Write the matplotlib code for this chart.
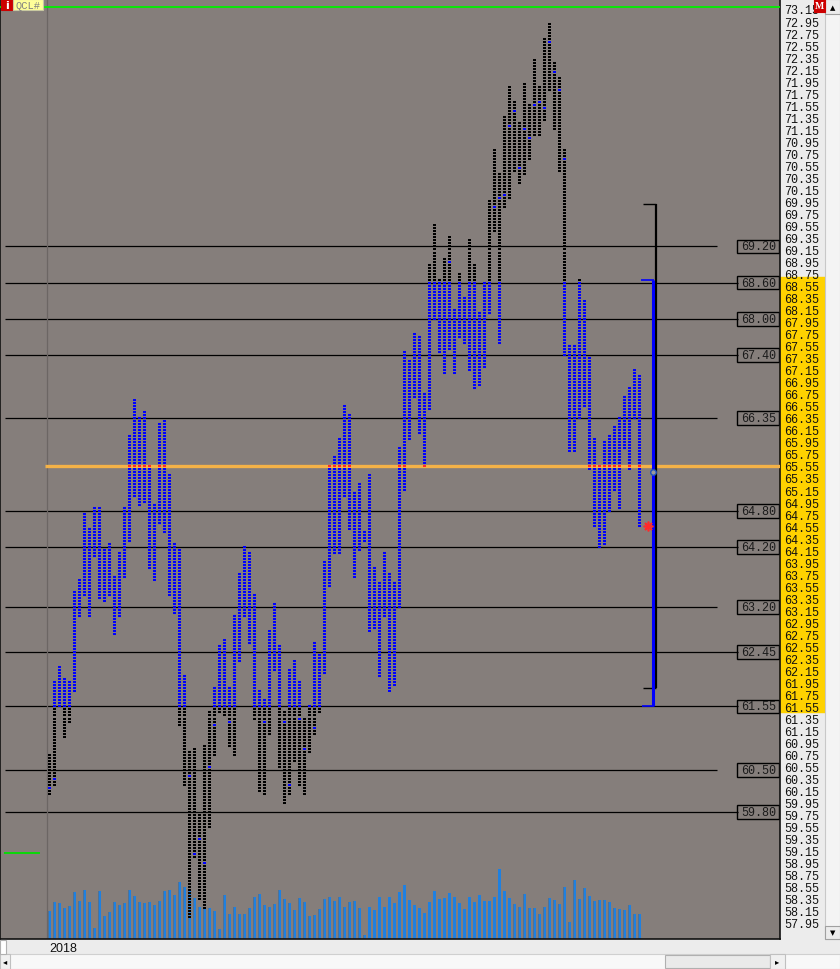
import numpy as np
import matplotlib
matplotlib.use('Agg')
import matplotlib.pyplot as plt
from matplotlib.patches import Rectangle
import matplotlib.transforms as mtransforms

# one column per session: low / high of the day
lows = [60.10, 60.25, 61.55, 61.05, 61.30, 61.80, 63.05, 63.40, 63.05, 64.05,
        63.35, 63.30, 63.40, 62.75, 63.05, 63.70, 64.30, 65.05, 64.90, 64.95,
        63.85, 63.65, 64.60, 64.45, 63.40, 63.10, 61.25, 60.25, 58.05, 59.05,
        58.35, 58.20, 59.55, 60.75, 61.45, 61.40, 60.90, 60.75, 62.30, 63.05,
        62.60, 61.35, 60.15, 60.10, 61.10, 62.15, 60.55, 59.95, 60.10, 60.65,
        60.25, 60.10, 60.80, 61.10, 61.45, 62.10, 63.55, 64.10, 64.10, 65.05,
        64.50, 63.70, 64.15, 64.30, 62.80, 62.85, 62.05, 63.05, 61.80, 61.90,
        63.20, 65.15, 66.00, 66.70, 66.10, 65.55, 66.50, 68.00, 67.45, 67.10,
        67.50, 67.10, 67.70, 67.60, 67.15, 66.85, 66.90, 67.20, 68.10, 69.45,
        67.60, 69.85, 70.00, 70.45, 70.25, 70.40, 70.65, 71.05, 71.05, 71.30,
        71.80, 71.15, 70.45, 67.40, 65.80, 65.80, 66.35, 66.55, 65.50, 64.55,
        64.20, 64.25, 64.80, 65.15, 64.85, 65.85, 65.50, 66.35, 64.55]
highs = [60.75, 61.95, 62.20, 62.00, 61.95, 63.45, 63.65, 64.75, 64.50, 64.85,
         64.85, 64.15, 64.25, 63.70, 64.10, 64.85, 66.05, 66.65, 66.35, 66.45,
         65.55, 64.90, 66.25, 66.30, 65.40, 64.25, 64.15, 62.05, 60.80, 60.85,
         59.75, 60.90, 61.45, 61.85, 62.55, 62.65, 61.85, 63.05, 63.75, 64.20,
         64.10, 63.40, 61.80, 61.65, 62.80, 63.25, 62.55, 61.45, 62.15, 62.30,
         61.95, 61.35, 61.55, 62.60, 62.40, 63.95, 65.55, 65.70, 66.00, 66.55,
         66.40, 65.10, 65.25, 64.45, 65.40, 63.85, 63.60, 64.10, 63.75, 63.60,
         65.85, 67.45, 67.30, 67.75, 67.70, 66.75, 68.90, 69.55, 68.65, 69.00,
         69.35, 68.15, 68.75, 68.35, 69.30, 68.90, 68.10, 68.60, 69.95, 70.80,
         70.40, 71.35, 71.85, 71.60, 71.25, 71.90, 71.55, 72.30, 71.85, 72.65,
         72.90, 72.25, 72.00, 70.80, 67.55, 67.55, 68.65, 68.30, 67.35, 66.00,
         65.55, 65.95, 66.05, 66.20, 66.35, 66.70, 66.85, 67.15, 67.05]
# close marks visible outside the value area
closes = {0: 60.20, 1: 60.35, 28: 60.40, 29: 59.10, 30: 59.35, 31: 58.95,
          32: 60.55, 33: 61.25, 36: 61.30, 43: 61.30, 47: 61.30, 48: 60.25,
          50: 61.35, 51: 60.85, 53: 61.20, 80: 68.95, 89: 69.85, 90: 70.00,
          91: 70.05, 92: 71.20, 93: 71.45, 94: 70.50, 95: 71.15, 96: 71.00,
          97: 71.55, 98: 71.60, 99: 71.50, 100: 72.60, 101: 72.10, 102: 71.80,
          103: 70.65}
volume = [28, 37, 36, 31, 33, 47, 38, 49, 37, 11,
          48, 23, 27, 37, 34, 36, 49, 43, 37, 36,
          37, 34, 38, 48, 49, 44, 57, 52, 49, 41,
          32, 32, 31, 28, 10, 44, 25, 32, 25, 25,
          31, 42, 45, 34, 32, 35, 49, 40, 36, 29,
          41, 37, 23, 24, 30, 40, 42, 38, 42, 32,
          37, 38, 31, 4, 32, 29, 42, 32, 42, 36,
          47, 54, 39, 34, 31, 26, 37, 48, 40, 41,
          46, 42, 36, 30, 42, 37, 44, 38, 38, 42,
          70, 48, 41, 35, 32, 45, 31, 31, 25, 32,
          41, 39, 35, 52, 17, 59, 40, 51, 43, 38,
          39, 39, 37, 31, 30, 29, 34, 25, 25]

TICK = 0.05
poc = 65.55
va_low, va_high = 61.55, 68.60
range_low, range_high = 61.85, 69.90
last_price = 65.45
star_price = 64.55
top_line = 73.18
ref_levels = [69.20, 68.60, 68.00, 67.40, 66.35, 64.80, 64.20, 63.20, 62.45, 61.55, 60.50, 59.80]
ref_long = [False, True, True, True, False, True, True, False, True, True, False, True]
price_labels = np.round(np.arange(57.95, 73.16, 0.20), 2)

BG = '#857e7b'
BLUE = '#0000ff'
RED = '#ff2a2a'

fig = plt.figure(figsize=(8.4, 9.7), dpi=100)
fig.patch.set_facecolor('#ececec')
rect = [0, 30 / 970, 780 / 840, 940 / 970]
xlim = (-9.8, 146.2)
ylim = (57.683, 73.316)
px = (ylim[1] - ylim[0]) / 940  # price per pixel

ax_bg = fig.add_axes(rect)
ax_bg.set_facecolor(BG)
ax_bg.set_xticks([]); ax_bg.set_yticks([])
for s in ax_bg.spines.values():
    s.set_visible(False)
ax_bg.set_zorder(0)

ax_vol = fig.add_axes([0, 30 / 970, 780 / 840, 90 / 970])
ax_vol.set_xlim(xlim)
ax_vol.set_ylim(0, 90)
ax_vol.axis('off')
ax_vol.patch.set_visible(False)
ax_vol.set_zorder(1)
cols = np.arange(len(volume))
ax_vol.bar(cols, volume, width=0.6, color='#4f7296', linewidth=0,
           antialiased=False, snap=True)
ax_vol.bar(cols + 0.1, volume, width=0.4, color='#1f80e0', linewidth=0,
           antialiased=False, snap=True)

ax = fig.add_axes(rect)
ax.patch.set_visible(False)
ax.set_zorder(2)
ax.set_xlim(xlim)
ax.set_ylim(ylim)

# tick squares
xs, ps, cs = [], [], []
for i, (lo, hi) in enumerate(zip(lows, highs)):
    n = int(round((hi - lo) / TICK)) + 1
    for k in range(n):
        p = round(lo + k * TICK, 2)
        if abs(p - poc) < 1e-6:
            c = RED
        elif va_low - 1e-6 <= p <= va_high + 1e-6:
            c = BLUE
        elif i in closes and abs(closes[i] - p) < 1e-6:
            c = BLUE
        else:
            c = 'black'
        xs.append(i); ps.append(p); cs.append(c)
ps = np.array(ps)
ax.bar(xs, 2 * px, bottom=ps - px, width=0.6, color=cs, linewidth=0,
       antialiased=False, snap=True, zorder=4)

# reference levels and their boxed labels
for lvl, long_line in zip(ref_levels, ref_long):
    ax.hlines(lvl, -8.8, 137.8 if long_line else 133.6, color='black', lw=0.9, zorder=1)
    ax.add_patch(Rectangle((137.6, lvl - 0.115), 8.4, 0.23, fill=False, ec='black',
                           lw=1.0, zorder=2))
    ax.text(141.9, lvl, f'{lvl:.2f}', ha='center', va='center', fontsize=8.5,
            family='Liberation Mono', color='#1a1a1a', zorder=3)

ax.hlines(poc, -0.8, 146.2, color='#f4b247', lw=2.4, zorder=3)
ax.axvline(-0.4, color='#6c6664', lw=0.9, zorder=1)
ax.axhline(top_line, color='#00f000', lw=1.3, zorder=3)
ax.hlines(59.12, -9.0, -1.8, color='#00e000', lw=1.3, zorder=3)

# value area / range brackets
ax.vlines(121.3, range_low, range_high, color='black', lw=1.6, zorder=5)
ax.hlines([range_high, range_low], 118.7, 121.4, color='black', lw=1.0, zorder=5)
ax.vlines(120.8, va_low, va_high + 0.05, color='#0000ff', lw=2.2, zorder=5)
ax.hlines([va_high + 0.05, va_low], [118.3, 118.6], 120.9, color='#0000ff', lw=1.2, zorder=5)
ax.plot(120.8, last_price, 'o', ms=4, mfc='#9a9a9a', mec='#2050c0', mew=1.0, zorder=6)
ax.plot(119.8, star_price, marker=(8, 2, 0), ms=7, color=RED, mew=1.2, zorder=6)

# price scale on the right
ax.yaxis.tick_right()
ax.set_yticks(price_labels, [f'{v:.2f}' for v in price_labels])
ax.tick_params(axis='y', length=0, pad=3, labelsize=8.5, labelcolor='#111111')
for lbl in ax.get_yticklabels():
    lbl.set_family('Liberation Mono')
ax.set_xticks([0], ['2018'])
ax.tick_params(axis='x', length=0, pad=2, labelsize=9, labelcolor='#111111')
for lbl in ax.get_xticklabels():
    lbl.set_ha('left')
    lbl.set_family('Liberation Sans')
ax.spines['top'].set_visible(False)
for s in ('left', 'right', 'bottom'):
    ax.spines[s].set_color('#111111')
    ax.spines[s].set_linewidth(1.2)

trans = mtransforms.blended_transform_factory(ax.transAxes, ax.transData)
ax.add_patch(Rectangle((1.0, va_low - 0.1), 45 / 780, (va_high + 0.1) - (va_low - 0.1),
                       transform=trans, color='#ffd200', clip_on=False, zorder=1))

# window chrome
def box(x0, y0, w, h, fc, ec=None, z=10):
    fig.add_artist(Rectangle((x0 / 840, 1 - (y0 + h) / 970), w / 840, h / 970,
                             transform=fig.transFigure, fc=fc,
                             ec=ec if ec else fc, lw=0.8, zorder=z))

box(825, 0, 15, 940, '#f4f4f4', '#c8c8c8')
box(825, 0, 15, 15, '#ececec', '#a0a0a0')
box(825, 927, 15, 13, '#ececec', '#a0a0a0')
fig.text(832.5 / 840, 1 - 8 / 970, '▲', ha='center', va='center', fontsize=5, zorder=11)
fig.text(832.5 / 840, 1 - 933 / 970, '▼', ha='center', va='center', fontsize=5, zorder=11)
box(814, 0, 11, 13, '#cc0000')
fig.text(819.5 / 840, 1 - 6.5 / 970, 'M', ha='center', va='center', fontsize=7,
         color='white', family='Liberation Serif', weight='bold', zorder=11)
box(1, 0, 11, 11, '#cc0000')
fig.text(6.5 / 840, 1 - 6 / 970, 'i', ha='center', va='center', fontsize=8,
         color='white', weight='bold', zorder=11)
box(13, 0, 30, 11, '#ffff99', '#c8c8a0')
fig.text(28 / 840, 1 - 6 / 970, 'QCL#', ha='center', va='center', fontsize=7.5,
         color='#808080', family='Liberation Mono', zorder=11)
box(0, 955, 840, 15, '#f8f8f8', '#d0d0d0')
box(0, 955, 10, 15, '#f0f0f0', '#c0c0c0')
box(665, 956, 105, 13, '#eaeaea', '#b0b0b0')
box(770, 955, 15, 15, '#f0f0f0', '#c0c0c0')
fig.text(5 / 840, 1 - 962 / 970, '◂', ha='center', va='center', fontsize=6, zorder=11)
fig.text(777 / 840, 1 - 962 / 970, '▸', ha='center', va='center', fontsize=6, zorder=11)
box(0, 941, 6, 14, '#ffffff', '#b0b0b0')

fig.savefig('out.png', dpi=100, facecolor=fig.get_facecolor())
